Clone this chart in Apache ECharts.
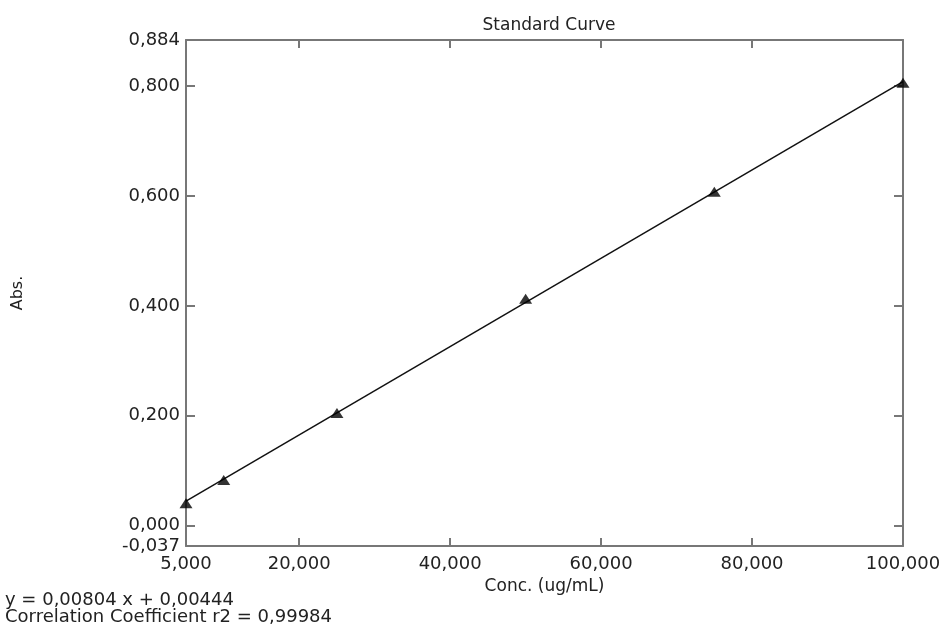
<!DOCTYPE html>
<html>
<head>
<meta charset="utf-8">
<title>Standard Curve</title>
<script src="https://cdn.jsdelivr.net/npm/echarts@6/dist/echarts.min.js"></script>
<style>
  html, body { margin: 0; padding: 0; background: #fff; }
  #chart { width: 944px; height: 627px; }
</style>
</head>
<body>
<div id="chart"></div>
<script>
// standards (conc. ug/mL -> absorbance)
var concValues = [5000, 10000, 25000, 50000, 75000, 100000];
var absValues = [0.041, 0.083, 0.205, 0.413, 0.608, 0.806];

// fitted line end points (y = 0,00804 x + 0,00444, x in thousands)
var fitLine = [[5000, 0.0446], [100000, 0.8084]];

var xTickLabels = [5000, 20000, 40000, 60000, 80000, 100000];
var xTickMarks = [20000, 40000, 60000, 80000];
var yTickLabels = [-0.037, 0, 0.2, 0.4, 0.6, 0.8, 0.884];
var yTickMarks = [0, 0.2, 0.4, 0.6, 0.8];

var equationText = 'y = 0,00804 x + 0,00444';
var correlationText = 'Correlation Coefficient r2 = 0,99984';

var fontName = 'DejaVu Sans';
var frameColor = '#777';

function fmtX(v) {
    return String(Math.round(v)).replace(/\B(?=(\d{3})+(?!\d))/g, ',');
}
function fmtY(v) {
    return v.toFixed(3).replace('.', ',');
}

var chart = echarts.init(document.getElementById('chart'));

var option = {
    animation: false,
    grid: {
        left: 186,
        right: 41,
        top: 40,
        bottom: 81
    },
    title: {
        text: 'Standard Curve',
        left: 544,
        top: 12,
        textAlign: 'center',
        textStyle: { fontFamily: fontName, fontSize: 17, fontWeight: 'normal', color: '#222' }
    },
    // bottom and top x axes
    xAxis: [{
        type: 'value',
        min: 5000,
        max: 100000,
        name: 'Conc. (ug/mL)',
        nameLocation: 'middle',
        nameGap: 26,
        nameTextStyle: { fontFamily: fontName, fontSize: 17, color: '#222' },
        axisLine: { onZero: false, lineStyle: { color: frameColor, width: 2 } },
        axisTick: { show: true, inside: true, length: 8, customValues: xTickMarks, lineStyle: { color: frameColor, width: 2 } },
        axisLabel: {
            customValues: xTickLabels,
            formatter: fmtX,
            margin: 9,
            fontFamily: fontName,
            fontSize: 18,
            color: '#222'
        },
        splitLine: { show: false }
    }, {
        type: 'value',
        position: 'top',
        min: 5000,
        max: 100000,
        axisLine: { onZero: false, lineStyle: { color: frameColor, width: 2 } },
        axisTick: { show: true, inside: true, length: 8, customValues: xTickMarks, lineStyle: { color: frameColor, width: 2 } },
        axisLabel: { show: false },
        splitLine: { show: false }
    }],
    // left and right y axes
    yAxis: [{
        type: 'value',
        min: -0.037,
        max: 0.884,
        name: 'Abs.',
        nameLocation: 'middle',
        nameGap: 160,
        nameRotate: 90,
        nameTextStyle: { fontFamily: fontName, fontSize: 16, color: '#222' },
        axisLine: { show: true, onZero: false, lineStyle: { color: frameColor, width: 2 } },
        axisTick: { show: true, inside: true, length: 9, customValues: yTickMarks, lineStyle: { color: frameColor, width: 2 } },
        axisLabel: {
            customValues: yTickLabels,
            formatter: fmtY,
            margin: 6,
            fontFamily: fontName,
            fontSize: 18,
            color: '#222'
        },
        splitLine: { show: false }
    }, {
        type: 'value',
        position: 'right',
        min: -0.037,
        max: 0.884,
        axisLine: { show: true, onZero: false, lineStyle: { color: frameColor, width: 2 } },
        axisTick: { show: true, inside: true, length: 9, customValues: yTickMarks, lineStyle: { color: frameColor, width: 2 } },
        axisLabel: { show: false },
        splitLine: { show: false }
    }],
    graphic: [{
        type: 'text',
        left: 5,
        top: 591,
        style: { text: equationText, font: '18px "DejaVu Sans"', fill: '#222' }
    }, {
        type: 'text',
        left: 5,
        top: 608,
        style: { text: correlationText, font: '18px "DejaVu Sans"', fill: '#222' }
    }],
    series: [{
        name: 'Fit',
        type: 'line',
        data: fitLine,
        showSymbol: false,
        lineStyle: { color: '#111', width: 1.5 },
        z: 2
    }, {
        name: 'Standards',
        type: 'scatter',
        data: concValues.map(function (c, i) { return [c, absValues[i]]; }),
        symbol: 'triangle',
        symbolSize: [13, 10],
        itemStyle: { color: '#000' },
        z: 3
    }]
};

chart.setOption(option);
</script>
</body>
</html>
